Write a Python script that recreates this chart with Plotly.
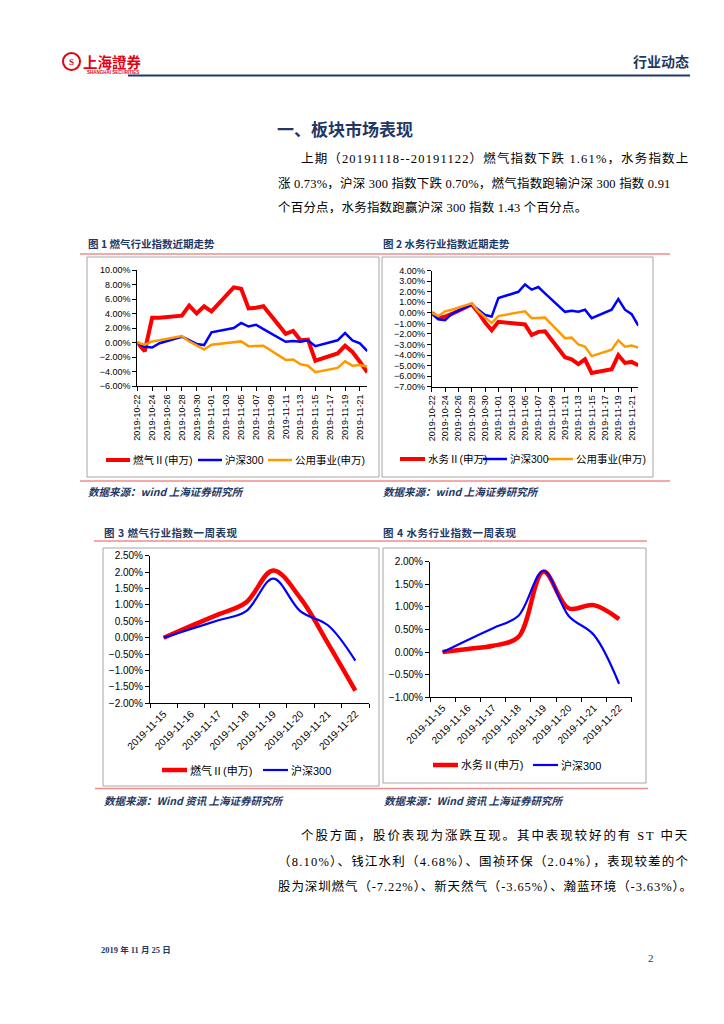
import plotly.graph_objects as go

W, H = 724, 1024
def X(px): return px / W
def Y(py): return 1 - py / H

# ---------------- data ----------------
month_dates = ["2019-10-22", "2019-10-23", "2019-10-24", "2019-10-25", "2019-10-28",
               "2019-10-29", "2019-10-30", "2019-10-31", "2019-11-01", "2019-11-04",
               "2019-11-05", "2019-11-06", "2019-11-07", "2019-11-08", "2019-11-11",
               "2019-11-12", "2019-11-13", "2019-11-14", "2019-11-15", "2019-11-18",
               "2019-11-19", "2019-11-20", "2019-11-21", "2019-11-22"]
gas_month = [0.0, -1.2, 3.4, 3.4, 3.7, 5.1, 4.0, 5.0, 4.3, 7.6, 7.4, 4.7,
             4.8, 5.0, 1.2, 1.6, 0.3, 0.4, -2.5, -1.5, -0.45, -1.3, -2.65, -4.1]
water_month = [0.0, -0.5, -0.35, -0.1, 0.8, 0.05, -0.9, -1.65, -0.85, -1.0, -1.1, -2.1,
               -1.8, -1.75, -4.2, -4.4, -4.85, -4.4, -5.7, -5.35, -4.0, -4.75, -4.65, -4.97]
hs300_month = [0.0, -0.6, -0.7, -0.1, 0.8, 0.3, -0.2, -0.35, 1.4, 2.0, 2.7, 2.2,
               2.45, 1.85, 0.1, 0.2, 0.12, 0.3, -0.5, 0.3, 1.3, 0.3, -0.12, -1.2]
util_month = [0.0, -0.3, 0.15, 0.3, 0.9, 0.15, -0.4, -0.97, -0.3, 0.0, 0.15, -0.5,
              -0.48, -0.45, -2.4, -2.35, -3.0, -3.2, -4.1, -3.5, -2.6, -3.2, -3.1, -3.3]
month_ticks_start = "2019-10-22"
month_range = ["2019-10-22", "2019-11-22"]

week_days = ["2019-11-15", "2019-11-16", "2019-11-17", "2019-11-18",
             "2019-11-19", "2019-11-20", "2019-11-21", "2019-11-22"]
gas_week = [0.0, 0.36, 0.71, 1.07, 2.05, 1.20, -0.17, -1.61]
water_week = [0.0, 0.07, 0.14, 0.33, 1.78, 0.97, 1.04, 0.73]
hs300_week = [0.0, 0.27, 0.53, 0.80, 1.80, 0.80, 0.38, -0.70]

name_gas = "燃气Ⅱ(申万)"
name_water = "水务Ⅱ(申万)"
name_hs = "沪深300"
name_util = "公用事业(申万)"

RED = "#ff0000"
BLUE = "#0000ff"
ORANGE = "#ff9900"
NAVY = "#1f3864"
PINK = "#f28b8b"

CH_FONT = "Arial, Liberation Sans, Noto Sans CJK SC"
BODY_FONT = "Liberation Serif, Noto Sans CJK SC"
CJK = "Noto Sans CJK SC"

fig = go.Figure()

def add_line(x, y, ax, color, width, name, shape="linear"):
    fig.add_trace(go.Scatter(x=x, y=y, xaxis="x" + ax, yaxis="y" + ax, mode="lines",
                             name=name, showlegend=False, hoverinfo="skip",
                             line=dict(color=color, width=width, shape=shape, smoothing=1.0)))

# chart 1
add_line(month_dates, gas_month, "", RED, 4, name_gas)
add_line(month_dates, hs300_month, "", BLUE, 2.5, name_hs)
add_line(month_dates, util_month, "", ORANGE, 2.5, name_util)
# chart 2
add_line(month_dates, water_month, "2", RED, 4, name_water)
add_line(month_dates, hs300_month, "2", BLUE, 2.5, name_hs)
add_line(month_dates, util_month, "2", ORANGE, 2.5, name_util)
# chart 3
add_line(week_days, gas_week, "3", RED, 4.5, name_gas, "spline")
add_line(week_days, hs300_week, "3", BLUE, 2.2, name_hs, "spline")
# chart 4
add_line(week_days, water_week, "4", RED, 4.5, name_water, "spline")
add_line(week_days, hs300_week, "4", BLUE, 2.2, name_hs, "spline")

common = dict(showline=True, linecolor="black", linewidth=1, ticks="outside", ticklen=4,
              tickcolor="black", showgrid=False, zeroline=False, fixedrange=True,
              automargin=False,
              tickfont=dict(family=CH_FONT, size=9, color="black"))

def xdate(dom, anchor):
    return dict(common, domain=[X(dom[0]), X(dom[1])], anchor=anchor, type="date",
                range=month_range, tick0=month_ticks_start, dtick=2 * 86400000,
                tickformat="%Y-%m-%d", tickangle=-90)

def xcat(dom, anchor):
    d = dict(common, domain=[X(dom[0]), X(dom[1])], anchor=anchor, type="category",
             range=[-0.5, 7.5], tickson="boundaries", tickangle=-45)
    d["tickfont"] = dict(family=CH_FONT, size=10, color="black")
    return d

def yax(dom, anchor, rng, dt, size=9):
    d = dict(common, domain=[Y(dom[1]), Y(dom[0])], anchor=anchor, range=rng, dtick=dt,
             tickformat=".2f", ticksuffix="%")
    d["tickfont"] = dict(family=CH_FONT, size=size, color="black")
    return d

fig.update_layout(
    xaxis=xdate((137.3, 367.3), "y"),
    yaxis=yax((270, 386), "x", [-6, 10], 2),
    xaxis2=xdate((431.7, 638.3), "y2"),
    yaxis2=yax((270.7, 386.7), "x2", [-7, 4], 1),
    xaxis3=xcat((150, 369), "y3"),
    yaxis3=yax((555.7, 703.3), "x3", [-2, 2.5], 0.5, 10),
    xaxis4=xcat((430, 631.7), "y4"),
    yaxis4=yax((561.7, 697.3), "x4", [-1, 2], 0.5, 10),
)

shapes = []
annots = []

def hline(x0, x1, y, color, width):
    shapes.append(dict(type="line", xref="paper", yref="paper", x0=X(x0), x1=X(x1),
                       y0=Y(y), y1=Y(y), line=dict(color=color, width=width)))

def rect(x0, y0, x1, y1, color="#a6a6a6", width=1):
    shapes.append(dict(type="rect", xref="paper", yref="paper", x0=X(x0), x1=X(x1),
                       y0=Y(y1), y1=Y(y0), line=dict(color=color, width=width)))

def text(x, y, s, size, color="black", family=CJK, xanchor="left", bold=False, italic=False):
    if bold:
        s = "<b>" + s + "</b>"
    if italic:
        s = "<i>" + s + "</i>"
    annots.append(dict(xref="paper", yref="paper", x=X(x), y=Y(y), text=s, showarrow=False,
                       xanchor=xanchor, yanchor="middle", borderpad=0,
                       font=dict(family=family, size=size, color=color)))

def spaced(s, ls):
    return '<span style="letter-spacing:%.2fpx">%s</span>' % (ls, s)

# header
shapes.append(dict(type="circle", xref="paper", yref="paper", x0=X(63), x1=X(80),
                   y0=Y(70), y1=Y(53), line=dict(color="#e60012", width=2)))
text(71.5, 61.5, "S", 9, "#e60012", "Liberation Serif", "center", bold=True)
text(82, 61, "上海證券", 14.5, "#e60012", CJK, bold=True)
text(86, 72.5, "SHANGHAI SECURITIES", 4.5, "#e60012", "Liberation Sans", bold=True)
hline(128, 690, 75.5, NAVY, 2)
text(690, 61, "行业动态", 14, NAVY, CJK, "right", bold=True)

# section title
text(276, 128, "一、板块市场表现", 17, NAVY, CJK, bold=True)

# paragraph 1
text(300, 158, spaced("上期（20191118--20191122）燃气指数下跌 1.61%，水务指数上", 1.15), 12.5, "black", BODY_FONT)
text(277, 183, spaced("涨 0.73%，沪深 300 指数下跌 0.70%，燃气指数跑输沪深 300 指数 0.91", 0.2), 12.5, "black", BODY_FONT)
text(277, 207, spaced("个百分点，水务指数跑赢沪深 300 指数 1.43 个百分点。", 0.2), 12.5, "black", BODY_FONT)

# figure captions
text(87, 243, "图 1 燃气行业指数近期走势", 10.5, NAVY, CJK, bold=True)
text(382, 243, "图 2 水务行业指数近期走势", 10.5, NAVY, CJK, bold=True)
hline(80, 670, 254, PINK, 1.5)
rect(87, 257, 379, 477)
rect(382, 257, 653, 477)
hline(80, 670, 481, PINK, 1.5)
text(87, 491, "数据来源：wind 上海证券研究所", 10.5, NAVY, CJK, bold=True, italic=True)
text(382, 491, "数据来源：wind 上海证券研究所", 10.5, NAVY, CJK, bold=True, italic=True)

text(103, 532, spaced("图 3 燃气行业指数一周表现", 0.5), 10.5, NAVY, CJK, bold=True)
text(382, 532, spaced("图 4 水务行业指数一周表现", 0.5), 10.5, NAVY, CJK, bold=True)
hline(94, 647, 541, PINK, 1.5)
rect(103, 548, 379, 786)
rect(383, 548, 646, 783)
hline(95, 648, 788.5, PINK, 1.5)
text(103, 800, "数据来源：Wind 资讯 上海证券研究所", 10.5, NAVY, CJK, bold=True, italic=True)
text(383, 800, "数据来源：Wind 资讯 上海证券研究所", 10.5, NAVY, CJK, bold=True, italic=True)

# legends (drawn manually)
def legend_item(x0, x1, y, color, width, label, size):
    shapes.append(dict(type="line", xref="paper", yref="paper", x0=X(x0), x1=X(x1),
                       y0=Y(y), y1=Y(y), line=dict(color=color, width=width)))
    text(x1 + 1.5, y, label, size, "black", CH_FONT)

legend_item(106, 130, 460, RED, 4, name_gas, 10.5)
legend_item(198, 222, 460, BLUE, 2.5, name_hs, 10.5)
legend_item(268, 292, 460, ORANGE, 2.5, name_util, 10.5)

legend_item(400, 425, 459, RED, 4, name_water, 10.5)
legend_item(483, 507, 459, BLUE, 2.5, name_hs, 10.5)
legend_item(548, 573, 459, ORANGE, 2.5, name_util, 10.5)

legend_item(162, 187, 770, RED, 4.5, name_gas, 11)
legend_item(263, 288, 770, BLUE, 2.2, name_hs, 11)

legend_item(433, 458, 765, RED, 4.5, name_water, 11)
legend_item(533, 558, 765, BLUE, 2.2, name_hs, 11)

# paragraph 2
text(300, 835, spaced("个股方面，股价表现为涨跌互现。其中表现较好的有 ST 中天", 1.9), 12.5, "black", BODY_FONT)
text(277, 861, spaced("（8.10%）、钱江水利（4.68%）、国祯环保（2.04%），表现较差的个", 1.2), 12.5, "black", BODY_FONT)
text(277, 886, spaced("股为深圳燃气（-7.22%）、新天然气（-3.65%）、瀚蓝环境（-3.63%）。", 0.9), 12.5, "black", BODY_FONT)

# footer
text(100, 950, "2019 年 11 月 25 日", 8.5, NAVY, BODY_FONT, bold=True)
text(655, 958, "2", 11, NAVY, "Liberation Serif", "right")

fig.update_layout(
    width=W, height=H, margin=dict(l=0, r=0, t=0, b=0, autoexpand=False),
    paper_bgcolor="white", plot_bgcolor="white",
    showlegend=False, shapes=shapes, annotations=annots,
)

fig.write_html("out.html", config={"displayModeBar": False},
               post_script="document.body.style.margin='0';document.body.style.overflow='hidden';")
